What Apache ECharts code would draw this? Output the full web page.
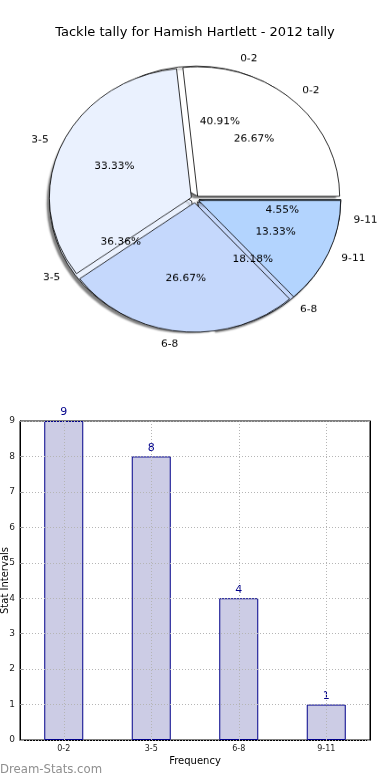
<!DOCTYPE html>
<html><head><meta charset="utf-8">
<script src="https://cdn.jsdelivr.net/npm/echarts@6/dist/echarts.min.js"></script>
<style>
html,body{margin:0;padding:0;background:#fff}
#wrap{position:relative;width:390px;height:780px;overflow:hidden}
#main{position:absolute;left:0;top:0;width:390px;height:780px}
#pie{position:absolute;left:0;top:0;width:390px;height:400px;transform:scaleY(0.912);transform-origin:195px 199px}
</style>
</head><body><div id="wrap"><div id="main"></div><div id="pie"></div></div>
<script>
// ---- data ----
const titleText = 'Tackle tally for Hamish Hartlett - 2012 tally';
const categories = ['0-2', '3-5', '6-8', '9-11'];
const pieOneValues = [9, 8, 4, 1];   // 40.91 / 36.36 / 18.18 / 4.55 %
const pieTwoValues = [4, 5, 4, 2];   // 26.67 / 33.33 / 26.67 / 13.33 %
const barValues = [9, 8, 4, 1];
const yMin = 0, yMax = 9, yStep = 1;
const xAxisTitle = 'Frequency';
const yAxisTitle = 'Stat Intervals';
const watermark = 'Dream-Stats.com';

// ---- style ----
const FONT = 'DejaVu Sans';
const sliceColors = ['#ffffff', '#eaf1fe', '#c5d8fc', '#b3d4fe'];
const PIE_C = [195, 199];
const R = 142;
const PIE_FS = 10.6;

function visiblePie(values, z, shadow) {
  return {
    type: 'pie', z: z, center: PIE_C, radius: R, startAngle: 0, clockwise: false,
    selectedMode: 'multiple', selectedOffset: 4, avoidLabelOverlap: false,
    animation: false, silent: true, emphasis: { disabled: true },
    data: categories.map((c, i) => ({ name: c, value: values[i], selected: true })),
    itemStyle: Object.assign({
      borderColor: '#000', borderWidth: 0.8,
      color: p => sliceColors[p.dataIndex]
    }, shadow ? { shadowBlur: 2, shadowColor: 'rgba(0,0,0,0.5)', shadowOffsetX: -2.5, shadowOffsetY: 2.5 } : {}),
    label: { show: true, position: 'outside', formatter: '{b}', fontSize: PIE_FS, color: '#000',
             fontFamily: FONT, distanceToLabelLine: 0 },
    labelLine: { show: false, length: R * 0.1, length2: 0 }
  };
}
function percentPie(values) {
  return {
    type: 'pie', z: 6, center: PIE_C, radius: [0, R * 1.2], startAngle: 0, clockwise: false,
    avoidLabelOverlap: false, animation: false, silent: true, emphasis: { disabled: true },
    data: categories.map((c, i) => ({ name: c, value: values[i] })),
    itemStyle: { color: 'rgba(0,0,0,0)', borderWidth: 0 },
    label: { show: true, position: 'inside', formatter: '{d}%', fontSize: PIE_FS, color: '#000', fontFamily: FONT },
    labelLine: { show: false }
  };
}

const pieChart = echarts.init(document.getElementById('pie'), null, { renderer: 'canvas' });
pieChart.setOption({
  animation: false,
  series: [
    visiblePie(pieOneValues, 2, true),
    visiblePie(pieTwoValues, 3, false),
    percentPie(pieOneValues),
    percentPie(pieTwoValues)
  ]
});

const chart = echarts.init(document.getElementById('main'), null, { renderer: 'canvas' });
chart.setOption({
  animation: false,
  title: { text: titleText, left: 'center', top: 21,
           textStyle: { fontSize: 13, fontWeight: 'normal', color: '#000', fontFamily: FONT } },
  graphic: [{ type: 'text', left: 0, top: 763,
              style: { text: watermark, fill: '#8f8f8f', font: '13px "DejaVu Sans Condensed"' } }],
  grid: [{ left: 20, right: 20, top: 421, bottom: 40, show: true, borderColor: '#000', borderWidth: 1,
           containLabel: false, outerBoundsMode: 'none' }],
  xAxis: [{
    type: 'category', data: categories, gridIndex: 0,
    axisLine: { lineStyle: { color: '#000' } },
    axisTick: { show: true, inside: true, alignWithLabel: true, length: 3, lineStyle: { color: '#999' } },
    axisLabel: { fontSize: 8, color: '#222', margin: 5, fontFamily: FONT },
    splitLine: { show: false },
    name: xAxisTitle, nameLocation: 'middle', nameGap: 16, nameMoveOverlap: false,
    nameTextStyle: { fontSize: 10, color: '#000', fontFamily: FONT }
  }],
  yAxis: [{
    type: 'value', min: yMin, max: yMax, interval: yStep, gridIndex: 0, z: 5,
    axisLine: { show: true, lineStyle: { color: '#000' } },
    axisTick: { show: true, inside: true, length: 3, lineStyle: { color: '#999' } },
    axisLabel: { fontSize: 9, color: '#222', margin: 5, fontFamily: FONT },
    splitLine: { show: true, lineStyle: { color: '#b5b5b5', type: [1, 2], width: 1 } },
    name: yAxisTitle, nameLocation: 'middle', nameGap: 10, nameRotate: 90, nameMoveOverlap: false,
    nameTextStyle: { fontSize: 10, color: '#000', fontFamily: FONT }
  }, {
    type: 'value', min: yMin, max: yMax, interval: yStep, gridIndex: 0, position: 'right',
    axisLine: { show: true, lineStyle: { color: '#000' } },
    axisTick: { show: true, inside: true, length: 3, lineStyle: { color: '#999' } },
    axisLabel: { show: false }, splitLine: { show: false }
  }],
  series: [
    {
      type: 'bar', xAxisIndex: 0, yAxisIndex: 0, data: barValues, barWidth: 39,
      itemStyle: { color: '#ccccE5', borderColor: '#00008b', borderWidth: 1 },
      label: { show: true, position: 'top', distance: 3, fontSize: 11, color: '#00008b', fontFamily: FONT },
      silent: true,
      markLine: {
        silent: true, symbol: 'none', label: { show: false }, z: 6,
        lineStyle: { color: '#b5b5b5', type: [1, 2], width: 1 },
        data: categories.map(c => ({ xAxis: c }))
      }
    }
  ]
});
</script></body></html>
